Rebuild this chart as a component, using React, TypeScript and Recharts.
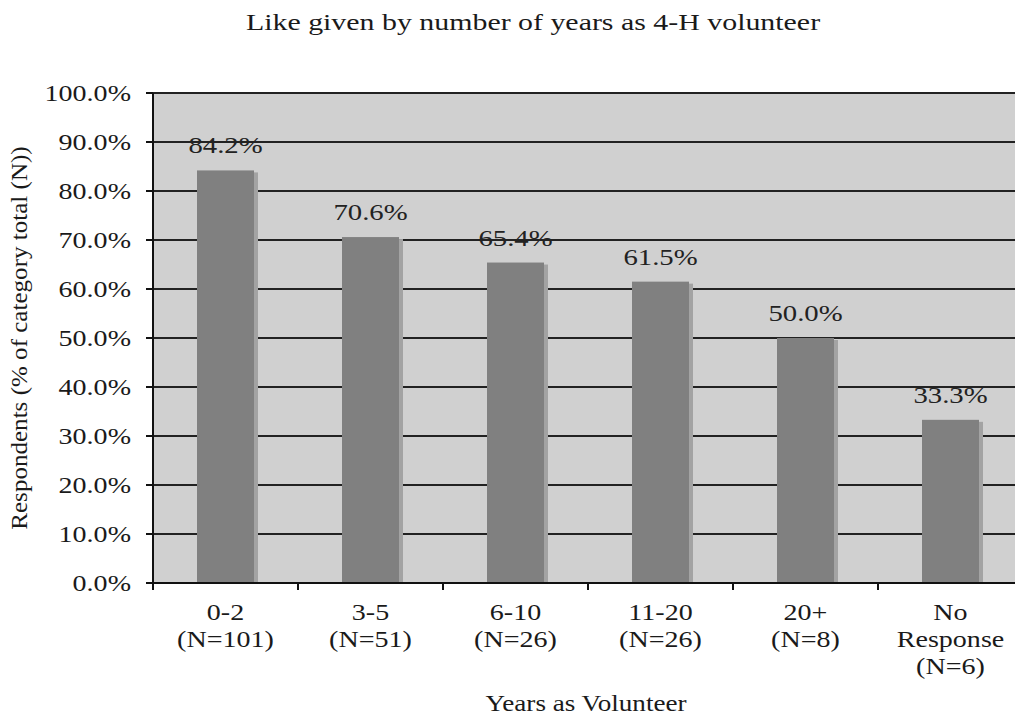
import React from 'react';
import { BarChart, Bar, XAxis, YAxis, CartesianGrid, LabelList } from 'recharts';

const categories = ['0-2', '3-5', '6-10', '11-20', '20+', 'No Response'];
const counts = ['(N=101)', '(N=51)', '(N=26)', '(N=26)', '(N=8)', '(N=6)'];
const likePct = [84.2, 70.6, 65.4, 61.5, 50.0, 33.3];
const yTicks = [0, 10, 20, 30, 40, 50, 60, 70, 80, 90, 100];

const data = categories.map((c, i) => ({ cat: c, n: counts[i], value: likePct[i] }));

const FONT = '"Liberation Serif", "Times New Roman", serif';
const W = 1030;
const H = 719;
const M = { top: 93, right: 7, bottom: 0, left: 0 };
const Y_AXIS_W = 153;
const X_AXIS_H = 136;
const PLOT_W = W - Y_AXIS_W - M.right;
const BAND = PLOT_W / categories.length;

const SText = ({ x, y, sx = 1.22, size = 23, anchor = 'middle', fill = '#1a1a1a', rotate = 0, children }: any) => (
  <text
    transform={`translate(${x},${y}) rotate(${rotate}) scale(${sx},1)`}
    textAnchor={anchor}
    fontSize={size}
    fontFamily={FONT}
    fill={fill}
  >
    {children}
  </text>
);

const YTick = (props: any) => {
  const { x, y, payload } = props;
  return <SText x={x} y={y + 8} anchor="end">{`${Number(payload.value).toFixed(1)}%`}</SText>;
};

const XTick = (props: any) => {
  const { x, y, payload, index } = props;
  const d = data[index] || data.find((e) => e.cat === payload.value);
  const lines = [...String(payload.value).split(' '), d ? d.n : ''];
  return (
    <g>
      <line x1={x - BAND / 2} x2={x - BAND / 2} y1={y} y2={y + 7} stroke="#111" strokeWidth={2} />
      {lines.map((l, i) => (
        <SText key={i} x={x} y={y + 37 + i * 27}>{l}</SText>
      ))}
    </g>
  );
};

const ShadowBar = (p: any) => {
  const { x, y, width, height } = p;
  if (!height || height <= 0) return null;
  return (
    <g>
      <rect x={x + 4} y={y + 2} width={width} height={height - 2} fill="#a3a3a3" />
      <rect x={x} y={y} width={width} height={height} fill="#808080" />
    </g>
  );
};

const BarLabel = (props: any) => {
  const { x, y, width, value } = props;
  return <SText x={x + width / 2} y={y - 17} sx={1.25} fill="#222">{`${Number(value).toFixed(1)}%`}</SText>;
};

export default function App() {
  return (
    <div style={{ position: 'fixed', left: 0, top: 0, width: 1015, height: 719, overflow: 'hidden', background: '#fff' }}>
      <div style={{ position: 'absolute', left: 0, top: 0 }}>
        <BarChart width={W} height={H} data={data} margin={M} barCategoryGap={0}>
          <CartesianGrid horizontal vertical={false} stroke="#222" strokeWidth={2} fill="#d0d0d0" fillOpacity={1} />
          <XAxis
            dataKey="cat"
            height={X_AXIS_H}
            tickLine={false}
            tickSize={0}
            tickMargin={0}
            interval={0}
            axisLine={{ stroke: '#111', strokeWidth: 2 }}
            tick={<XTick />}
          />
          <YAxis
            type="number"
            domain={[0, 100]}
            ticks={yTicks}
            width={Y_AXIS_W}
            interval={0}
            tickSize={7}
            tickMargin={15}
            axisLine={{ stroke: '#111', strokeWidth: 2 }}
            tickLine={{ stroke: '#111', strokeWidth: 2 }}
            tick={<YTick />}
          />
          <Bar dataKey="value" barSize={57} shape={<ShadowBar />} isAnimationActive={false}>
            <LabelList dataKey="value" content={<BarLabel />} />
          </Bar>
        </BarChart>
      </div>
      <svg width={1015} height={719} style={{ position: 'absolute', left: 0, top: 0, pointerEvents: 'none' }}>
        <SText x={533} y={30} sx={1.3}>Like given by number of years as 4-H volunteer</SText>
        <SText x={27} y={338} rotate={-90} sx={1.09}>Respondents (% of category total (N))</SText>
        <SText x={586} y={711} sx={1.18}>Years as Volunteer</SText>
      </svg>
    </div>
  );
}
